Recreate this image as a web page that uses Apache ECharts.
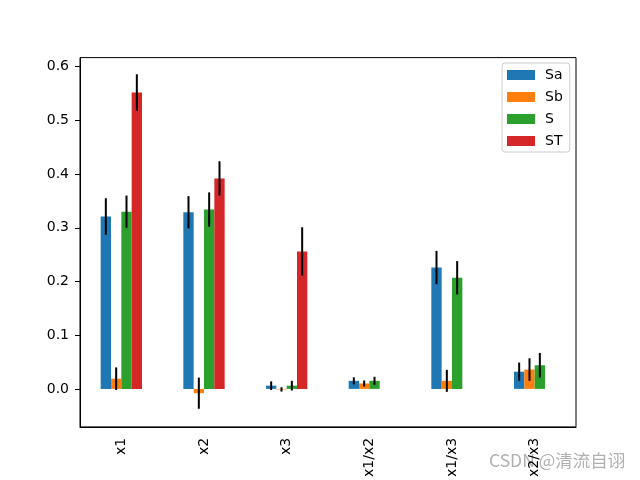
<!DOCTYPE html>
<html>
<head>
<meta charset="utf-8">
<script src="https://cdn.jsdelivr.net/npm/echarts@6/dist/echarts.min.js"></script>
<style>html,body{margin:0;padding:0;background:#fff}#c{width:640px;height:480px}</style>
</head>
<body>
<div id="c"></div>
<script>
const categories = ['x1', 'x2', 'x3', 'x1/x2', 'x1/x3', 'x2/x3'];
const seriesNames = ['Sa', 'Sb', 'S', 'ST'];
const Sa = [0.321, 0.329, 0.006, 0.015, 0.226, 0.032];
const Sb = [0.019, -0.008, -0.001, 0.010, 0.015, 0.036];
const S = [0.330, 0.334, 0.006, 0.015, 0.207, 0.044];
const ST = [0.552, 0.392, 0.256, null, null, null];
const SaErr = [0.034, 0.030, 0.008, 0.0065, 0.031, 0.017];
const SbErr = [0.021, 0.029, 0.004, 0.0056, 0.0205, 0.021];
const SErr = [0.030, 0.032, 0.009, 0.0075, 0.031, 0.023];
const STErr = [0.034, 0.032, 0.045, null, null, null];
const yTicks = [0, 0.1, 0.2, 0.3, 0.4, 0.5, 0.6];

const colors = ['#1f77b4', '#ff7f0e', '#2ca02c', '#d62728'];
const values = [Sa, Sb, S, ST];
const errs = [SaErr, SbErr, SErr, STErr];
const font = 'DejaVu Sans';

const series = [];
values.forEach((v, i) => {
  series.push({
    name: seriesNames[i], type: 'bar', data: v,
    barWidth: '12.5%', barGap: '0%',
    itemStyle: { color: colors[i] }, z: 2
  });
});
values.forEach((v, i) => {
  const data = [];
  v.forEach((val, k) => {
    if (val !== null && errs[i][k] !== null) data.push([k, val - errs[i][k], val + errs[i][k]]);
  });
  series.push({
    name: 'err' + i, type: 'custom', z: 5, silent: true,
    data: data,
    encode: { x: 0, y: [1, 2] },
    renderItem: function (params, api) {
      const band = api.size([1, 0])[0];
      const off = (i - 1.5) * band * 0.125;
      const p1 = api.coord([api.value(0), api.value(1)]);
      const p2 = api.coord([api.value(0), api.value(2)]);
      return {
        type: 'line',
        shape: { x1: p1[0] + off, y1: p1[1], x2: p2[0] + off, y2: p2[1] },
        style: { stroke: '#000', lineWidth: 2 }
      };
    }
  });
});

const chart = echarts.init(document.getElementById('c'));
chart.setOption({
  animation: false,
  backgroundColor: '#fff',
  textStyle: { fontFamily: font },
  grid: { left: 80, right: 64, top: 57.6, bottom: 52.8, show: true, borderColor: '#000', borderWidth: 1, containLabel: false },
  legend: {
    data: seriesNames, orient: 'vertical', left: 502, top: 63,
    itemWidth: 28, itemHeight: 10, itemGap: 8, icon: 'rect',
    backgroundColor: '#fff', borderColor: '#ccc', borderWidth: 1, borderRadius: 3,
    padding: [5, 7, 4, 5],
    textStyle: { fontFamily: font, fontSize: 14, color: '#000', padding: [0, 0, 0, 5] }
  },
  xAxis: {
    type: 'category', data: categories,
    axisLine: { onZero: false, lineStyle: { color: '#000' } },
    axisTick: { alignWithLabel: true, length: 5, lineStyle: { color: '#000' } },
    axisLabel: { rotate: 90, color: '#000', fontSize: 14, fontFamily: font, margin: 11 }
  },
  yAxis: {
    type: 'value', min: -0.0708, max: 0.617,
    splitLine: { show: false },
    axisLine: { show: true, lineStyle: { color: '#000' } },
    axisTick: { show: true, length: 5, lineStyle: { color: '#000' }, customValues: yTicks },
    axisLabel: { color: '#000', fontSize: 14, fontFamily: font, margin: 11, customValues: yTicks,
      formatter: v => v.toFixed(1) }
  },
  graphic: [{
    type: 'text', left: 489, top: 452,
    style: { text: 'CSDN @清流自诩', fill: 'rgba(150,150,150,0.75)', fontSize: 17.5, fontFamily: 'Noto Sans CJK SC' }
  }],
  series: series
});
</script>
</body>
</html>
